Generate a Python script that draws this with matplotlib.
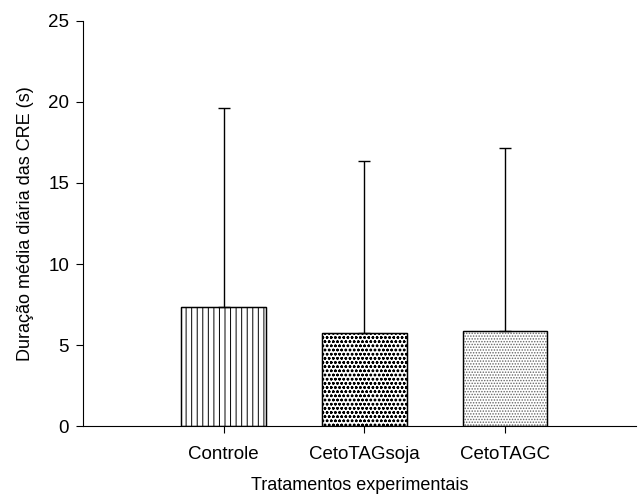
import matplotlib
matplotlib.use('Agg')
import matplotlib.pyplot as plt

plt.rcParams['font.family'] = ['Liberation Sans', 'DejaVu Sans']
plt.rcParams['hatch.linewidth'] = 0.7

grupos = ['Controle', 'CetoTAGsoja', 'CetoTAGC']
medias = [7.35, 5.72, 5.86]
erros = [12.25, 10.66, 11.28]
hachuras = ['|||', 'oooo', '......']
cores_hachura = ['black', 'black', '#666666']

fig = plt.figure(figsize=(6.38, 4.95), dpi=100)
ax = fig.add_axes([0.130, 0.139, 0.867, 0.819])

pos = [1, 2, 3]
for i in range(len(grupos)):
    ax.bar(pos[i], medias[i], width=0.6, color='white', edgecolor=cores_hachura[i],
           hatch=hachuras[i], linewidth=0.8)
    ax.bar(pos[i], medias[i], width=0.6, color='none', edgecolor='black', linewidth=1.0)
    ax.errorbar(pos[i], medias[i], yerr=[[0], [erros[i]]], fmt='none', ecolor='black',
                elinewidth=1.0, capsize=4.5, capthick=1.0)

ax.set_xlim(0, 3.93)
ax.set_ylim(0, 25)
ax.set_yticks([0, 5, 10, 15, 20, 25])
ax.set_xticks(pos)
ax.set_xticklabels(grupos)
ax.spines['top'].set_visible(False)
ax.spines['right'].set_visible(False)
ax.tick_params(direction='out', length=5, labelsize=13.5)
ax.tick_params(axis='x', pad=9)
ax.tick_params(axis='y', pad=5)
ax.set_ylabel('Duração média diária das CRE (s)', fontsize=13, labelpad=10)
ax.set_xlabel('Tratamentos experimentais', fontsize=13, labelpad=10)

fig.savefig('out.png', dpi=100)
